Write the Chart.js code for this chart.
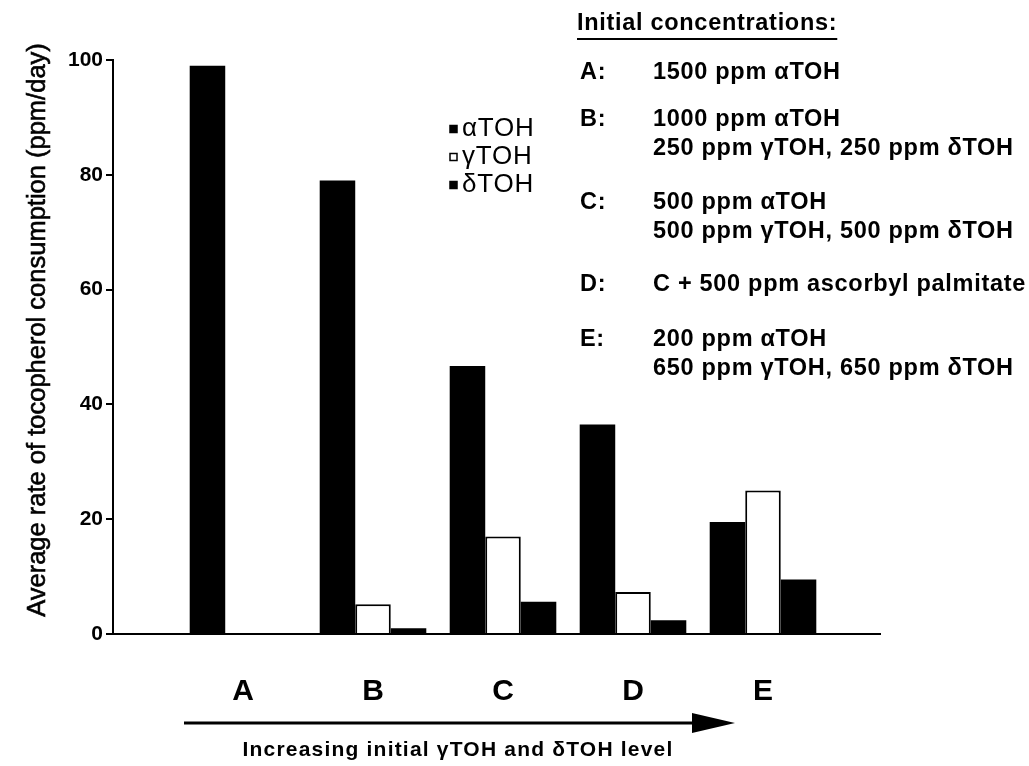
<!DOCTYPE html>
<html>
<head>
<meta charset="utf-8">
<title>Tocopherol consumption</title>
<script src="https://cdn.jsdelivr.net/npm/chart.js@4.4.0/dist/chart.umd.min.js"></script>
<style>
  html, body { margin: 0; background: #fff; }
  #wrap { width: 1029px; height: 766px; position: relative; }
</style>
</head>
<body>
<div id="wrap"><canvas id="chart"></canvas></div>
<script>
// rates of consumption, ppm/day, per treatment group
const groups = ["A", "B", "C", "D", "E"];
const alphaRate = [99, 79, 46.7, 36.5, 19.5];
const gammaRate = [0, 5.2, 17, 7.3, 25];
const deltaRate = [0, 1.0, 5.6, 2.4, 9.5];
const seriesNames = ["αTOH", "γTOH", "δTOH"];
const yTicks = [0, 20, 40, 60, 80, 100];

const yTitle = "Average rate of tocopherol consumption (ppm/day)";
const xCaption = "Increasing initial γTOH and δTOH level";
const concHeading = "Initial concentrations:";
const concLetters = ["A:", "B:", "C:", "D:", "E:"];
const concLines = [
  ["1500 ppm αTOH"],
  ["1000 ppm αTOH", "250 ppm γTOH, 250 ppm δTOH"],
  ["500 ppm αTOH", "500 ppm γTOH, 500 ppm δTOH"],
  ["C + 500 ppm ascorbyl palmitate"],
  ["200 ppm αTOH", "650 ppm γTOH, 650 ppm δTOH"]
];

const FONT = "'Liberation Sans', Arial, Helvetica, sans-serif";

function points(values) {
  return values.map((v, i) => ({ x: i + 1, y: v }));
}

function spacing(ctx, px) {
  if ("letterSpacing" in ctx) ctx.letterSpacing = px + "px";
}

// legend, right-hand notes, rotated y title, arrow and caption
const notes = {
  id: "notes",
  afterDraw(chart) {
    const ctx = chart.ctx;
    ctx.save();
    ctx.fillStyle = "#000";
    ctx.strokeStyle = "#000";
    ctx.textBaseline = "middle";

    // y title
    ctx.save();
    ctx.translate(38, 330);
    ctx.rotate(-Math.PI / 2);
    ctx.textAlign = "center";
    ctx.font = "25.5px " + FONT;
    ctx.lineWidth = 0.6;
    ctx.fillText(yTitle, 0, 0);
    ctx.strokeText(yTitle, 0, 0);
    ctx.restore();

    // legend
    ctx.font = "26px " + FONT;
    spacing(ctx, 0.8);
    ctx.textAlign = "left";
    chart.data.datasets.forEach((ds, i) => {
      const cy = 129 + i * 28;
      ctx.fillStyle = ds.backgroundColor;
      ctx.fillRect(450, cy - 3.5, 7, 7);
      ctx.lineWidth = 1.5;
      ctx.strokeRect(450, cy - 3.5, 7, 7);
      ctx.fillStyle = "#000";
      ctx.fillText(ds.label, 462, cy);
    });

    // initial concentrations
    ctx.font = "bold 23.5px " + FONT;
    spacing(ctx, 0.7);
    ctx.fillText(concHeading, 577, 24);
    const w = ctx.measureText(concHeading).width;
    ctx.lineWidth = 2;
    ctx.beginPath();
    ctx.moveTo(577, 39);
    ctx.lineTo(577 + w, 39);
    ctx.stroke();

    const rowY = [73, 120, 203, 285, 340];
    concLetters.forEach((letter, i) => {
      ctx.fillText(letter, 580, rowY[i]);
      concLines[i].forEach((line, j) => {
        ctx.fillText(line, 653, rowY[i] + j * 29);
      });
    });

    // arrow under the groups
    ctx.lineWidth = 3;
    ctx.beginPath();
    ctx.moveTo(184, 723);
    ctx.lineTo(700, 723);
    ctx.stroke();
    ctx.beginPath();
    ctx.moveTo(692, 713);
    ctx.lineTo(735, 723);
    ctx.lineTo(692, 733);
    ctx.closePath();
    ctx.fill();

    ctx.font = "bold 21px " + FONT;
    spacing(ctx, 1.2);
    ctx.textAlign = "center";
    ctx.fillText(xCaption, 458, 750);
    ctx.restore();
  }
};

new Chart(document.getElementById("chart"), {
  type: "bar",
  data: {
    datasets: [
      { label: seriesNames[0], data: points(alphaRate), backgroundColor: "#000", borderColor: "#000", borderWidth: 0 },
      { label: seriesNames[1], data: points(gammaRate), backgroundColor: "#fff", borderColor: "#000", borderWidth: 2 },
      { label: seriesNames[2], data: points(deltaRate), backgroundColor: "#000", borderColor: "#000", borderWidth: 0 }
    ]
  },
  options: {
    responsive: true,
    maintainAspectRatio: false,
    animation: false,
    layout: { padding: { top: 60, right: 149, left: 0, bottom: 0 } },
    categoryPercentage: 0.82,
    barPercentage: 1.0,
    plugins: { legend: { display: false }, tooltip: { enabled: false } },
    scales: {
      x: {
        type: "linear",
        offset: false,
        min: 0,
        max: 5.9,
        afterBuildTicks(scale) {
          scale.ticks = groups.map((g, i) => ({ value: i + 1 }));
        },
        afterFit(scale) { scale.height = 132; },
        grid: { display: false, drawTicks: false },
        border: { display: true, color: "#000", width: 2 },
        ticks: {
          padding: 40,
          color: "#000",
          font: { family: FONT, size: 30, weight: "bold" },
          callback: (v) => groups[v - 1] || ""
        }
      },
      y: {
        min: 0,
        max: 100,
        afterBuildTicks(scale) {
          scale.ticks = yTicks.map(v => ({ value: v }));
        },
        afterFit(scale) { scale.width = 113; },
        grid: { drawOnChartArea: false, drawTicks: true, tickLength: 7, color: "#000", lineWidth: 2 },
        border: { display: true, color: "#000", width: 2 },
        ticks: {
          padding: 3,
          color: "#000",
          font: { family: FONT, size: 21, weight: "bold" }
        }
      }
    }
  },
  plugins: [notes]
});
</script>
</body>
</html>
